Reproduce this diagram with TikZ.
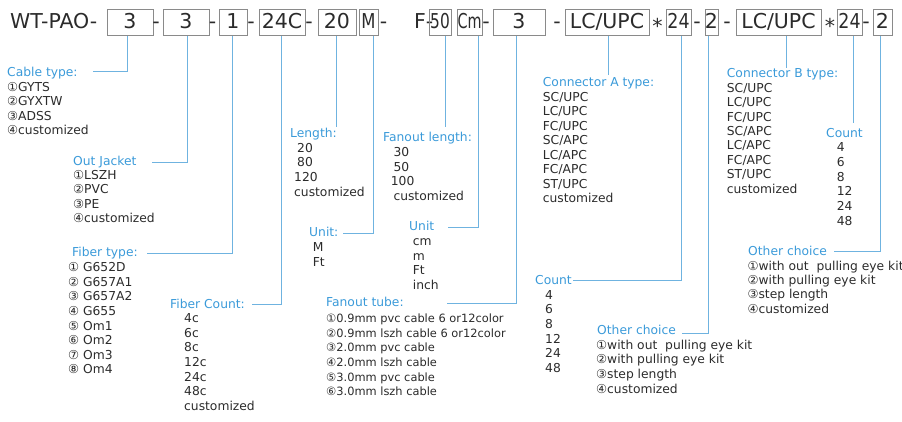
\documentclass[tikz,border=0pt]{standalone}
\usepackage{fontspec}
\usepackage{graphicx}
\setmainfont{DejaVu Sans}
\definecolor{lblblue}{HTML}{3A9AD9}
\definecolor{lineblue}{HTML}{6FB3E0}
\definecolor{txt}{HTML}{2B2B2B}
\definecolor{boxgray}{HTML}{8A8A8A}
\newcommand\topfnt{\fontsize{20.5}{24}\selectfont}
\newcommand\lblfnt{\fontsize{12.3}{14.6}\selectfont}
\newcommand\smfnt{\fontsize{11.4}{14}\selectfont}
\newcommand\sqz[2]{\scalebox{#1}[1]{#2}}
\tikzset{
 boxed/.style={draw=boxgray, line width=0.8pt, inner sep=0pt, minimum height=26.2pt, text height=15pt, text depth=3.2pt, font=\topfnt, text=txt},
 toptext/.style={font=\topfnt, text=txt, inner sep=0pt, anchor=base},
 lbl/.style={font=\lblfnt, text=lblblue, inner sep=0pt, anchor=base west},
 item/.style={font=\lblfnt, text=txt, inner sep=0pt, anchor=base west},
 smitem/.style={item, font=\smfnt},
 conn/.style={draw=lineblue, line width=0.9pt},
}
\begin{document}
\begin{tikzpicture}[x=1pt,y=-1pt]
\useasboundingbox (0,0) rectangle (902,421);
% ---- top row ----
\node[toptext, anchor=base west] (wt) at (10,28.3) {WT-PAO-};
\node[boxed, minimum width=46pt] (b1) at (130,22.4) {3};
\node[toptext] (h1) at (156,28.3) {-};
\node[boxed, minimum width=46pt] (b2) at (186,22.4) {3};
\node[toptext] (h2) at (212.5,28.3) {-};
\node[boxed, minimum width=28pt] (b3) at (233,22.4) {1};
\node[toptext] (h3) at (251,28.3) {-};
\node[boxed, minimum width=46pt] (b4) at (282,22.4) {24C};
\node[toptext] (h4) at (309,28.3) {-};
\node[boxed, minimum width=38pt] (b5) at (337,22.4) {20};
\node[boxed, minimum width=19pt] (b6) at (368.5,22.4) {\sqz{0.8}{M}};
\node[toptext] (h6) at (383.5,28.3) {-};
\node[toptext, anchor=base west] (f) at (414,28.3) {F-};
\node[boxed, minimum width=22pt] (b7) at (440,22.4) {\sqz{0.75}{50}};
\node[boxed, minimum width=25pt] (b8) at (469.5,22.4) {\sqz{0.7}{Cm}};
\node[toptext] (h8) at (486,28.3) {-};
\node[boxed, minimum width=52pt] (b9) at (519,22.4) {3};
\node[toptext] (h9) at (557,28.3) {-};
\node[boxed, minimum width=84pt] (b10) at (607,22.4) {LC/UPC};
\node[toptext] (s1) at (657.5,28.3) {\raisebox{-5pt}{*}};
\node[boxed, minimum width=25pt] (b11) at (678.5,22.4) {\sqz{0.85}{24}};
\node[toptext] (h11) at (697,28.3) {-};
\node[boxed, minimum width=13pt] (b12) at (711.5,22.4) {2};
\node[toptext] (h12) at (727,28.3) {-};
\node[boxed, minimum width=85pt] (b13) at (778.5,22.4) {LC/UPC};
\node[toptext] (s2) at (830,28.3) {\raisebox{-5pt}{*}};
\node[boxed, minimum width=25pt] (b14) at (849.5,22.4) {\sqz{0.85}{24}};
\node[toptext] (h14) at (866,28.3) {-};
\node[boxed, minimum width=19pt] (b15) at (882.5,22.4) {2};
% ---- labels ----
\node[lbl] (L1) at (7,76.5) {Cable type:};
\node[lbl] (L2) at (73,165) {Out Jacket};
\node[lbl] (L3) at (72,256.7) {Fiber type:};
\node[lbl] (L4) at (170,308.3) {Fiber Count:};
\node[lbl] (L5) at (290,137.7) {Length:};
\node[lbl] (L6) at (309,236.7) {Unit:};
\node[lbl] (L7) at (383,141.7) {Fanout length:};
\node[lbl] (L8) at (409,230.7) {Unit};
\node[lbl] (L9) at (326,306.7) {Fanout tube:};
\node[lbl] (L10) at (542.7,86.7) {Connector A type:};
\node[lbl] (L11) at (535,284.3) {Count};
\node[lbl] (L12) at (597,334) {Other choice};
\node[lbl] (L13) at (726.7,77.7) {Connector B type:};
\node[lbl] (L14) at (826,137.7) {Count};
\node[lbl] (L15) at (748,255.7) {Other choice};
% ---- items ----
\foreach \t [count=\i from 0] in {①GYTS,②GYXTW,③ADSS,④customized}
  \node[item] (ia\i) at (7,{91+14.6*\i}) {\t};
\foreach \t [count=\i from 0] in {①LSZH,②PVC,③PE,④customized}
  \node[item] (ib\i) at (73,{179+14.6*\i}) {\t};
\foreach \t [count=\i from 0] in {① G652D,② G657A1,③ G657A2,④ G655,⑤ Om1,⑥ Om2,⑦ Om3,⑧ Om4}
  \node[item] (ic\i) at (68,{271.7+14.6*\i}) {\t};
\foreach \t [count=\i from 0] in {4c,6c,8c,12c,24c,48c,customized}
  \node[item] (id\i) at (184,{322.7+14.6*\i}) {\t};
\foreach \x/\t [count=\i from 0] in {297/20,297/80,294/120,294/customized}
  \node[item] (ie\i) at (\x,{152.3+14.6*\i}) {\t};
\foreach \t [count=\i from 0] in {M,Ft}
  \node[item] (if\i) at (312.7,{251.7+14.6*\i}) {\t};
\foreach \x/\t [count=\i from 0] in {393.3/30,393.3/50,390.7/100,393.3/customized}
  \node[item] (ig\i) at (\x,{156.7+14.6*\i}) {\t};
\foreach \t [count=\i from 0] in {cm,m,Ft,inch}
  \node[item] (ih\i) at (412.7,{245.5+14.6*\i}) {\t};
\foreach \t [count=\i from 0] in {①0.9mm pvc cable 6 or12color,②0.9mm lszh cable 6 or12color,③2.0mm pvc cable,④2.0mm lszh cable,⑤3.0mm pvc cable,⑥3.0mm lszh cable}
  \node[smitem] (ii\i) at (326,{322.7+14.6*\i}) {\t};
\foreach \t [count=\i from 0] in {SC/UPC,LC/UPC,FC/UPC,SC/APC,LC/APC,FC/APC,ST/UPC,customized}
  \node[item] (ij\i) at (542.7,{101+14.5*\i}) {\t};
\foreach \t [count=\i from 0] in {4,6,8,12,24,48}
  \node[item] (ik\i) at (545,{299.3+14.6*\i}) {\t};
\foreach \t [count=\i from 0] in {①with out\ \ pulling eye kit,②with pulling eye kit,③step length,④customized}
  \node[item] (il\i) at (596,{349.3+14.6*\i}) {\t};
\foreach \t [count=\i from 0] in {SC/UPC,LC/UPC,FC/UPC,SC/APC,LC/APC,FC/APC,ST/UPC,customized}
  \node[item] (im\i) at (726.7,{92.3+14.4*\i}) {\t};
\foreach \t [count=\i from 0] in {4,6,8,12,24,48}
  \node[item] (in\i) at (836.7,{151.7+14.66*\i}) {\t};
\foreach \t [count=\i from 0] in {①with out\ \ pulling eye kit,②with pulling eye kit,③step length,④customized}
  \node[item] (io\i) at (747.3,{270+14.4*\i}) {\t};
% ---- connectors ----
\coordinate (k1) at (127,71);   \coordinate (e1) at (93,71);
\coordinate (k2) at (187,162);  \coordinate (e2) at (152,162);
\coordinate (k3) at (232,253);  \coordinate (e3) at (147,253);
\coordinate (k4) at (281,304);  \coordinate (e4) at (252,304);
\coordinate (k5) at (336,127);
\coordinate (k6) at (373,233);  \coordinate (e6) at (343,233);
\coordinate (k7) at (445,127);
\coordinate (k8) at (478,227);  \coordinate (e8) at (448,227);
\coordinate (k9) at (516,303);  \coordinate (e9) at (447,303);
\coordinate (k10) at (608,75);
\coordinate (k11) at (681,280); \coordinate (e11) at (573,280);
\coordinate (k12) at (708,333); \coordinate (e12) at (682,333);
\coordinate (k13) at (786,68);
\coordinate (k14) at (853,123);
\coordinate (k15) at (880,251); \coordinate (e15) at (834,251);
\draw[conn] (b1.south -| k1) -- (k1) -- (e1);
\draw[conn] (b2.south -| k2) -- (k2) -- (e2);
\draw[conn] (b3.south -| k3) -- (k3) -- (e3);
\draw[conn] (b4.south -| k4) -- (k4) -- (e4);
\draw[conn] (b5.south -| k5) -- (k5);
\draw[conn] (b6.south -| k6) -- (k6) -- (e6);
\draw[conn] (b7.south -| k7) -- (k7);
\draw[conn] (b8.south -| k8) -- (k8) -- (e8);
\draw[conn] (b9.south -| k9) -- (k9) -- (e9);
\draw[conn] (b10.south -| k10) -- (k10);
\draw[conn] (b11.south -| k11) -- (k11) -- (e11);
\draw[conn] (b12.south -| k12) -- (k12) -- (e12);
\draw[conn] (b13.south -| k13) -- (k13);
\draw[conn] (b14.south -| k14) -- (k14);
\draw[conn] (b15.south -| k15) -- (k15) -- (e15);
\end{tikzpicture}
\end{document}
